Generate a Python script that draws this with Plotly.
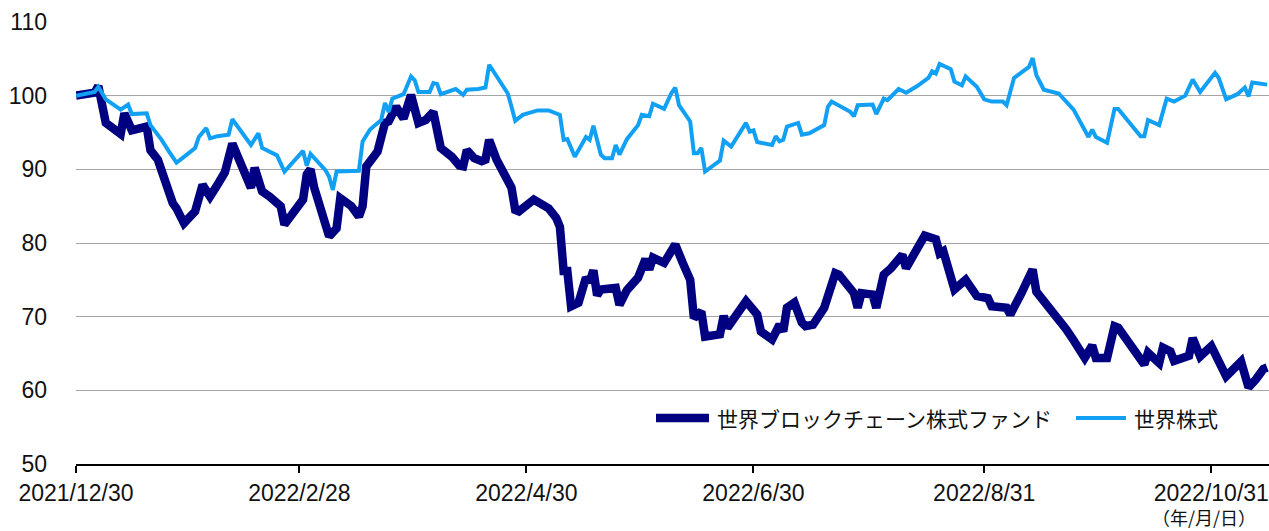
import plotly.graph_objects as go

# ---- data ----
fund_dates = [
    "2021-12-30", "2022-01-04", "2022-01-05", "2022-01-06", "2022-01-07", "2022-01-11", "2022-01-12",
    "2022-01-14", "2022-01-18", "2022-01-19", "2022-01-21", "2022-01-25", "2022-01-26", "2022-01-28",
    "2022-01-31", "2022-02-02", "2022-02-04", "2022-02-06", "2022-02-08", "2022-02-10", "2022-02-15",
    "2022-02-16", "2022-02-18", "2022-02-20", "2022-02-23", "2022-02-24", "2022-02-26", "2022-03-01",
    "2022-03-02", "2022-03-03", "2022-03-04", "2022-03-06", "2022-03-08", "2022-03-10", "2022-03-11",
    "2022-03-14", "2022-03-16", "2022-03-17", "2022-03-18", "2022-03-21", "2022-03-23", "2022-03-24",
    "2022-03-26", "2022-03-28", "2022-03-30", "2022-04-01", "2022-04-03", "2022-04-05", "2022-04-07",
    "2022-04-10", "2022-04-12", "2022-04-13", "2022-04-14", "2022-04-16", "2022-04-18", "2022-04-19",
    "2022-04-20", "2022-04-22", "2022-04-24", "2022-04-26", "2022-04-27", "2022-04-28", "2022-05-02",
    "2022-05-06", "2022-05-08", "2022-05-09", "2022-05-10", "2022-05-11", "2022-05-12", "2022-05-14",
    "2022-05-16", "2022-05-17", "2022-05-18", "2022-05-19", "2022-05-20", "2022-05-23", "2022-05-24",
    "2022-05-25", "2022-05-27", "2022-05-30", "2022-06-01", "2022-06-02", "2022-06-03", "2022-06-06",
    "2022-06-08", "2022-06-09", "2022-06-11", "2022-06-13", "2022-06-14", "2022-06-16", "2022-06-17",
    "2022-06-21", "2022-06-22", "2022-06-23", "2022-06-28", "2022-07-01", "2022-07-02", "2022-07-05",
    "2022-07-07", "2022-07-08", "2022-07-09", "2022-07-11", "2022-07-13", "2022-07-14", "2022-07-16",
    "2022-07-19", "2022-07-22", "2022-07-23", "2022-07-27", "2022-07-28", "2022-07-29", "2022-08-01",
    "2022-08-02", "2022-08-04", "2022-08-06", "2022-08-09", "2022-08-10", "2022-08-12", "2022-08-15",
    "2022-08-18", "2022-08-19", "2022-08-20", "2022-08-23", "2022-08-26", "2022-08-29", "2022-09-01",
    "2022-09-02", "2022-09-06", "2022-09-07", "2022-09-10", "2022-09-13", "2022-09-14", "2022-09-17",
    "2022-09-20", "2022-09-22", "2022-09-24", "2022-09-27", "2022-09-29", "2022-09-30", "2022-10-03",
    "2022-10-05", "2022-10-06", "2022-10-13", "2022-10-14", "2022-10-17", "2022-10-18", "2022-10-20",
    "2022-10-21", "2022-10-25", "2022-10-26", "2022-10-28", "2022-10-31", "2022-11-04", "2022-11-08",
    "2022-11-10", "2022-11-12", "2022-11-14", "2022-11-15",
]
fund_values = [
    100.0, 100.4, 101.3, 98.1, 96.3, 94.8, 97.6,
    95.3, 95.8, 92.6, 91.3, 85.4, 84.7, 82.7,
    84.3, 87.9, 86.3, 87.9, 89.6, 93.5, 87.5,
    90.2, 87.0, 86.3, 85.0, 82.5, 83.8, 85.9,
    89.3, 90.0, 87.5, 84.5, 80.9, 82.0, 86.1,
    85.0, 83.6, 85.0, 90.4, 92.4, 96.3, 96.5,
    98.5, 96.9, 100.1, 96.3, 96.7, 97.8, 92.9,
    91.7, 90.5, 90.4, 92.6, 91.5, 91.1, 91.3,
    94.0, 91.3, 89.5, 87.5, 84.5, 84.3, 85.9,
    84.7, 83.4, 82.2, 76.2, 76.2, 71.4, 71.9,
    75.3, 74.7, 76.3, 72.9, 73.7, 73.7, 73.9,
    71.6, 73.6, 75.3, 77.8, 76.4, 78.0, 77.3,
    78.8, 79.8, 77.3, 75.0, 69.8, 70.7, 67.3,
    67.6, 70.1, 68.5, 72.1, 70.3, 68.0, 66.9,
    68.9, 68.0, 71.2, 71.9, 69.2, 68.7, 68.9,
    71.2, 75.9, 75.7, 73.2, 71.2, 73.2, 73.0,
    71.2, 75.7, 76.6, 78.4, 76.6, 78.4, 81.0,
    80.5, 78.6, 78.9, 73.7, 75.0, 72.8, 72.5,
    71.4, 71.2, 70.3, 73.2, 76.4, 73.4, 71.6,
    69.8, 68.3, 66.8, 64.4, 66.1, 64.4, 64.4,
    68.7, 68.5, 63.5, 65.1, 63.7, 65.8, 65.3,
    64.0, 64.7, 67.1, 64.6, 66.0, 61.9, 63.9,
    60.4, 61.5, 62.9, 63.1,
]

world_dates = [
    "2021-12-30", "2022-01-04", "2022-01-05", "2022-01-07", "2022-01-11", "2022-01-13", "2022-01-14",
    "2022-01-18", "2022-01-19", "2022-01-22", "2022-01-24", "2022-01-26", "2022-01-28", "2022-01-31",
    "2022-02-01", "2022-02-03", "2022-02-04", "2022-02-06", "2022-02-09", "2022-02-10", "2022-02-15",
    "2022-02-17", "2022-02-18", "2022-02-22", "2022-02-24", "2022-03-01", "2022-03-02", "2022-03-03",
    "2022-03-07", "2022-03-08", "2022-03-09", "2022-03-10", "2022-03-16", "2022-03-17", "2022-03-19",
    "2022-03-22", "2022-03-23", "2022-03-24", "2022-03-25", "2022-03-28", "2022-03-30", "2022-03-31",
    "2022-04-01", "2022-04-04", "2022-04-05", "2022-04-06", "2022-04-07", "2022-04-11", "2022-04-13",
    "2022-04-14", "2022-04-17", "2022-04-19", "2022-04-20", "2022-04-22", "2022-04-25", "2022-04-26",
    "2022-04-27", "2022-04-29", "2022-05-03", "2022-05-06", "2022-05-09", "2022-05-10", "2022-05-11",
    "2022-05-13", "2022-05-16", "2022-05-17", "2022-05-18", "2022-05-20", "2022-05-21", "2022-05-23",
    "2022-05-24", "2022-05-25", "2022-05-27", "2022-05-30", "2022-05-31", "2022-06-02", "2022-06-03",
    "2022-06-06", "2022-06-08", "2022-06-09", "2022-06-10", "2022-06-13", "2022-06-14", "2022-06-15",
    "2022-06-16", "2022-06-17", "2022-06-19", "2022-06-21", "2022-06-22", "2022-06-24", "2022-06-28",
    "2022-06-29", "2022-06-30", "2022-07-01", "2022-07-05", "2022-07-06", "2022-07-07", "2022-07-08",
    "2022-07-09", "2022-07-12", "2022-07-13", "2022-07-15", "2022-07-19", "2022-07-20", "2022-07-21",
    "2022-07-25", "2022-07-26", "2022-07-27", "2022-07-28", "2022-08-01", "2022-08-02", "2022-08-04",
    "2022-08-05", "2022-08-08", "2022-08-10", "2022-08-13", "2022-08-16", "2022-08-17", "2022-08-18",
    "2022-08-19", "2022-08-22", "2022-08-23", "2022-08-25", "2022-08-26", "2022-08-29", "2022-08-31",
    "2022-09-02", "2022-09-05", "2022-09-06", "2022-09-08", "2022-09-12", "2022-09-13", "2022-09-14",
    "2022-09-16", "2022-09-20", "2022-09-24", "2022-09-26", "2022-09-28", "2022-09-29", "2022-09-30",
    "2022-10-03", "2022-10-05", "2022-10-06", "2022-10-12", "2022-10-13", "2022-10-14", "2022-10-17",
    "2022-10-19", "2022-10-21", "2022-10-24", "2022-10-26", "2022-10-28", "2022-11-01", "2022-11-02",
    "2022-11-04", "2022-11-07", "2022-11-09", "2022-11-10", "2022-11-11", "2022-11-15",
]
world_values = [
    100.0, 100.5, 101.2, 99.5, 98.1, 98.8, 97.5,
    97.6, 96.0, 94.0, 92.4, 90.9, 91.7, 92.9,
    94.4, 95.6, 94.2, 94.5, 94.7, 96.8, 93.3,
    94.9, 92.9, 91.9, 89.7, 92.5, 90.5, 92.1,
    89.9, 89.0, 87.2, 89.7, 89.8, 93.8, 95.4,
    96.7, 99.0, 97.8, 99.6, 100.2, 102.6, 102.1,
    100.5, 100.5, 101.7, 101.6, 100.2, 100.9, 100.1,
    100.8, 100.9, 101.1, 104.2, 102.6, 100.3, 98.5,
    96.6, 97.4, 98.0, 98.0, 97.4, 94.0, 94.1,
    91.7, 94.4, 94.0, 95.9, 92.0, 91.5, 91.5,
    93.3, 92.0, 94.1, 96.0, 97.4, 97.2, 98.9,
    98.2, 100.4, 101.1, 98.7, 96.5, 92.2, 92.2,
    92.9, 89.7, 90.5, 91.2, 93.9, 93.1, 96.3,
    95.1, 95.3, 93.7, 93.3, 94.5, 93.8, 94.0,
    95.8, 96.3, 94.7, 94.9, 96.0, 98.5, 99.2,
    98.0, 97.8, 97.2, 98.7, 98.8, 97.5, 99.6,
    99.4, 100.9, 100.4, 101.3, 102.4, 103.3, 103.0,
    104.3, 103.6, 101.9, 101.4, 102.6, 101.2, 99.5,
    99.2, 99.2, 98.7, 102.4, 103.9, 105.1, 102.8,
    100.8, 100.3, 98.1, 96.3, 94.4, 95.4, 94.4,
    93.6, 98.2, 98.2, 94.5, 94.5, 96.7, 96.0,
    99.6, 99.2, 100.0, 102.2, 100.5, 103.1, 102.4,
    99.5, 100.2, 101.1, 99.9, 101.8, 101.5,
]

series_names = ["世界ブロックチェーン株式ファンド", "世界株式"]
tick_dates = ["2021-12-30", "2022-02-28", "2022-04-30", "2022-06-30", "2022-08-31", "2022-10-31"]
tick_labels = ["2021/12/30", "2022/2/28", "2022/4/30", "2022/6/30", "2022/8/31", "2022/10/31"]
y_ticks = [50, 60, 70, 80, 90, 100, 110]
unit_note = "（年/月/日）"

# ---- styles ----
NAVY = "#000080"
SKY = "#12A0F5"
FONT = "Arial, 'Liberation Sans', 'Noto Sans CJK JP', sans-serif"
JFONT = "'Noto Sans CJK JP', sans-serif"

fig = go.Figure()
fig.add_trace(go.Scatter(x=fund_dates, y=fund_values, mode="lines", name=series_names[0],
                         line=dict(color=NAVY, width=8.5)))
fig.add_trace(go.Scatter(x=world_dates, y=world_values, mode="lines", name=series_names[1],
                         line=dict(color=SKY, width=4)))

W, H = 1269, 531
PL, PT, PR, PB = 76, 22, 1269, 464          # plot area in window pixels
L, T, R, B = PL, PT, W - PR, H - PB
pw, ph = PR - PL, PB - PT


def px(x):
    return (x - PL) / pw


def py(y):
    return (PB - y) / ph


# manual legend (line samples + text)
legend_items = [
    (656, 709, NAVY, 8.5, 715, series_names[0]),
    (1076, 1126, SKY, 4, 1132, series_names[1]),
]
shapes = []
annotations = []
for x0, x1, col, wdt, tx, txt in legend_items:
    shapes.append(dict(type="line", xref="paper", yref="paper", x0=px(x0), x1=px(x1),
                       y0=py(418), y1=py(418), line=dict(color=col, width=wdt), layer="above"))
    annotations.append(dict(text=txt, xref="paper", yref="paper", x=px(tx), y=py(418),
                            xanchor="left", yanchor="middle", showarrow=False,
                            font=dict(family=JFONT, size=21, color="#111111")))

annotations.append(dict(text=unit_note, xref="paper", yref="paper", x=px(1204), y=py(503),
                        xanchor="center", yanchor="top", showarrow=False, borderpad=0,
                        font=dict(family=JFONT, size=18, color="#111111")))

fig.update_layout(
    width=W, height=H,
    margin=dict(l=L, r=R, t=T, b=B, pad=0),
    paper_bgcolor="white", plot_bgcolor="white",
    showlegend=False,
    font=dict(family=FONT, size=23, color="#111111"),
    shapes=shapes,
    annotations=annotations,
    xaxis=dict(
        type="date",
        range=["2021-12-30", "2022-11-15 12:00"],
        tickvals=tick_dates, ticktext=tick_labels,
        showgrid=False, zeroline=False,
        showline=True, linecolor="black", linewidth=2,
        ticks="outside", ticklen=7, tickwidth=2, tickcolor="black",
        tickfont=dict(family=FONT, size=23, color="#111111"),
    ),
    yaxis=dict(
        range=[50, 110], tickvals=y_ticks,
        showgrid=True, gridcolor="#A6A6A6", gridwidth=1,
        zeroline=False, showline=False, ticks="",
        ticklabelstandoff=28,
        tickfont=dict(family=FONT, size=23, color="#111111"),
    ),
)

fig.write_html(
    "out.html",
    config={"displayModeBar": False},
    post_script="document.body.style.margin='0px';"
                "document.documentElement.style.overflow='hidden';"
                "document.body.style.overflow='hidden';",
)
